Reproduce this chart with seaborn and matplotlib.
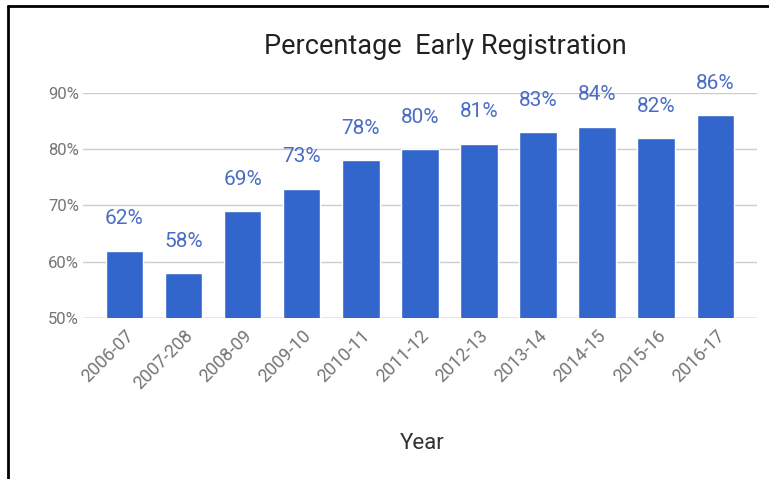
import numpy as np
import pandas as pd
import seaborn as sns
import matplotlib.pyplot as plt
from matplotlib.lines import Line2D

years = ["2006-07", "2007-208", "2008-09", "2009-10", "2010-11", "2011-12",
         "2012-13", "2013-14", "2014-15", "2015-16", "2016-17"]
pct = [62, 58, 69, 73, 78, 80, 81, 83, 84, 82, 86]
yticks = [50, 60, 70, 80, 90]

df = pd.DataFrame({"year": years, "pct": pct})

sns.set_theme(style="white")
plt.rcParams['font.family'] = ['Roboto', 'DejaVu Sans']

fig = plt.figure(figsize=(7.69, 4.79), dpi=100)
ax = fig.add_axes([0.108, 0.336, 0.876, 0.470])

sns.barplot(data=df, x="year", y="pct", color="#3366cc", width=0.636,
            saturation=1, ax=ax)

ax.set_ylim(50, 90)
ax.set_xlim(-0.7, 10.7)
ax.set_yticks(yticks)
ax.set_yticklabels([f"{v}%" for v in yticks], fontsize=12, color="#757575")
ax.set_xticks(range(len(years)))
ax.set_xticklabels(years, rotation=45, ha="right", rotation_mode="anchor",
                   fontsize=13, color="#757575")
ax.tick_params(axis="y", length=0, pad=3)
ax.tick_params(axis="x", length=0, pad=6)
ax.grid(axis="y", color="#cccccc", linewidth=1)
ax.set_axisbelow(True)
for s in ax.spines.values():
    s.set_visible(False)
ax.axhline(50, color="#aaaaaa", linewidth=1, zorder=0)

for i, v in enumerate(pct):
    ax.annotate(f"{v}%", (i, v), xytext=(0, 16), textcoords="offset points",
                ha="center", va="bottom", fontsize=15, color="#4a6cc4")

ax.set_xlabel("")
ax.set_ylabel("")
fig.text(0.579, 0.902, "Percentage  Early Registration", ha="center",
         va="center", fontsize=19.5, color="#222222")
fig.text(0.549, 0.075, "Year", ha="center", va="center", fontsize=16,
         color="#333333")

# frame of the screenshot
fig.add_artist(Line2D([0.0105, 0.0105], [0, 0.987], transform=fig.transFigure,
                      color="black", linewidth=2))
fig.add_artist(Line2D([0.0105, 1.0], [0.987, 0.987], transform=fig.transFigure,
                      color="black", linewidth=2))

fig.savefig("out.png", dpi=100, facecolor="white")
